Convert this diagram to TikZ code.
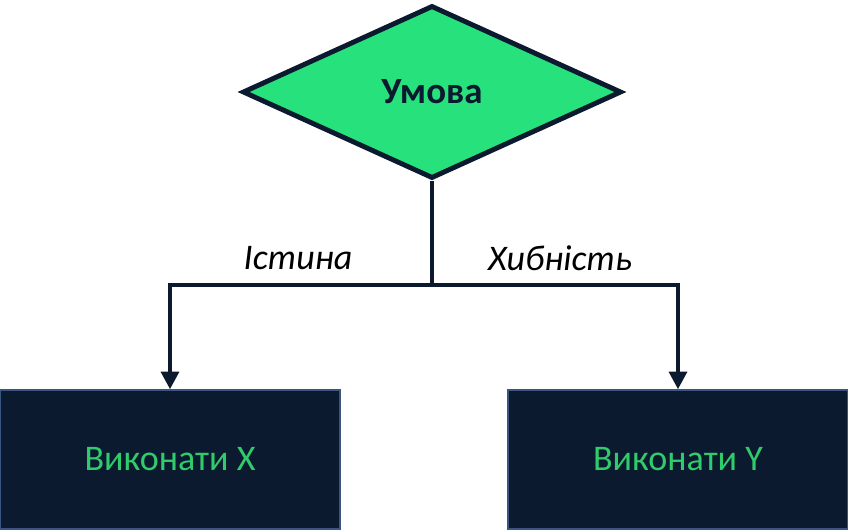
\documentclass[tikz,border=0pt]{standalone}
\usepackage{fontspec}
\setmainfont{Carlito}
\usetikzlibrary{shapes.geometric,arrows.meta,positioning}
\definecolor{navy}{HTML}{0B1A2E}
\definecolor{navyedge}{HTML}{3A5580}
\definecolor{condgreen}{HTML}{27E27C}
\definecolor{textgreen}{HTML}{30CC6C}
\tikzset{
  decision/.style={diamond, draw=navy, fill=condgreen, line width=2.8pt,
    minimum width=7.58cm, minimum height=3.46cm, inner sep=0pt,
    font=\fontsize{21}{24}\selectfont\bfseries, text=navy},
  action/.style={rectangle, draw=navyedge, fill=navy, line width=0.8pt,
    minimum width=6.8cm, minimum height=2.78cm,
    font=\fontsize{20.5}{24}\selectfont, text=textgreen},
  link/.style={draw=navy, line width=2.4pt},
  branch/.style={font=\fontsize{20.5}{24}\selectfont\itshape, text=black}
}
\begin{document}
\begin{tikzpicture}
\useasboundingbox (0,0) rectangle (16.96,10.58);
\node[decision] (cond) at (8.64,8.74) {Умова};
\node[action] (doX) at (3.4,1.39) {Виконати X};
\node[action] (doY) at (13.56,1.39) {Виконати Y};
\coordinate (split) at (8.64,4.88); % where the two branches part
\draw[link] (cond.south) -- (split);
\draw[link,-{Triangle[width=10pt,length=10pt]}] (split) -| (doX.north);
\draw[link,-{Triangle[width=10pt,length=10pt]}] (split) -| (doY.north);
\node[branch] (yes) at (5.96,5.42) {Істина};
\node[branch] (no) at (11.2,5.42) {Хибність};
\end{tikzpicture}
\end{document}
